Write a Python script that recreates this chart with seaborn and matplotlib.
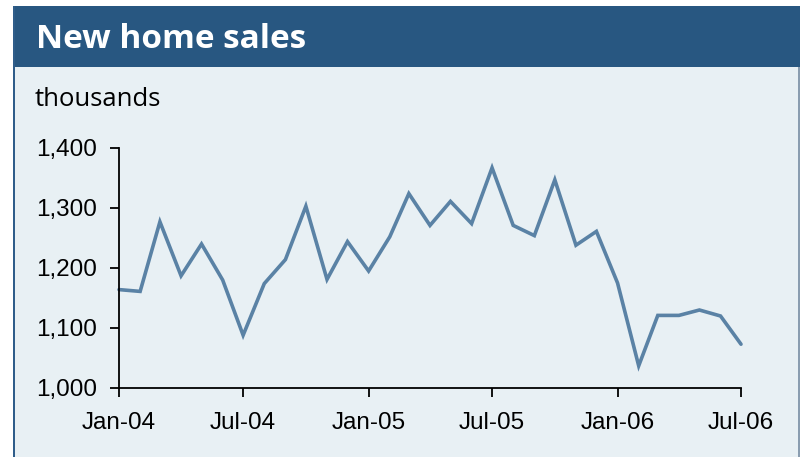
import matplotlib
matplotlib.use("Agg")
import matplotlib.pyplot as plt
import matplotlib.dates as mdates
from matplotlib.patches import Rectangle
from matplotlib.ticker import FuncFormatter
import seaborn as sns
import pandas as pd

# Monthly new home sales, thousands (seasonally adjusted annual rate)
months = pd.date_range("2004-01-01", "2006-07-01", freq="MS")
sales = [1164, 1161, 1277, 1187, 1240, 1180, 1088, 1174, 1214, 1303,
         1181, 1244, 1195, 1252, 1324, 1271, 1311, 1274, 1367, 1271,
         1254, 1347, 1238, 1261, 1175, 1037, 1121, 1121, 1130, 1120,
         1073]
tick_months = pd.date_range("2004-01-01", "2006-07-01", freq="6MS")
y_ticks = [1000, 1100, 1200, 1300, 1400]

title = "New home sales"
unit_label = "thousands"

df = pd.DataFrame({"month": months, "sales": sales})

sns.set_theme(style="white")
plt.rcParams["font.family"] = ["Liberation Sans", "DejaVu Sans"]

fig = plt.figure(figsize=(8.0, 4.57), dpi=100)
W, H = 800, 457

def px_rect(x0, y0, x1, y1, **kw):
    # rectangle given in pixel coordinates measured from the top-left
    return Rectangle((x0 / W, 1 - y1 / H), (x1 - x0) / W, (y1 - y0) / H,
                     transform=fig.transFigure, **kw)

panel_bg = "#E8F0F4"
band = "#285781"
fig.patches.append(px_rect(14, 6, 799, 457, facecolor=panel_bg,
                           edgecolor="none", zorder=0))
fig.patches.append(px_rect(14, 6, 800, 67, facecolor=band,
                           edgecolor="none", zorder=1))
fig.patches.append(px_rect(12.5, 6, 15, 457, facecolor="#2F5D8A",
                           edgecolor="none", zorder=2))
fig.patches.append(px_rect(798, 67, 799.5, 457, facecolor="#8A9DB0",
                           edgecolor="none", zorder=2))

fig.text(36 / W, 1 - 48 / H, title, color="white", fontsize=24,
         fontweight="bold", family=["Open Sans", "DejaVu Sans"],
         ha="left", va="baseline", zorder=3)
fig.text(35 / W, 1 - 106 / H, unit_label, color="black", fontsize=18.5,
         family=["Open Sans", "DejaVu Sans"], ha="left", va="baseline",
         zorder=3)

ax = fig.add_axes([119 / W, 1 - 388 / H, (741 - 119) / W, (388 - 148) / H])
ax.set_zorder(5)
ax.set_facecolor("none")

sns.lineplot(data=df, x="month", y="sales", ax=ax, color="#5A82A5",
             linewidth=2.6, solid_joinstyle="miter", clip_on=False)

ax.set_xlim(months[0], months[-1])
ax.set_ylim(y_ticks[0], y_ticks[-1])
ax.set_yticks(y_ticks)
ax.yaxis.set_major_formatter(FuncFormatter(lambda v, _: f"{int(v):,}"))
ax.set_xticks(tick_months)
ax.xaxis.set_major_formatter(mdates.DateFormatter("%b-%y"))
ax.set_xlabel("")
ax.set_ylabel("")

for side in ("top", "right"):
    ax.spines[side].set_visible(False)
for side in ("left", "bottom"):
    ax.spines[side].set_color("black")
    ax.spines[side].set_linewidth(1.3)

ax.tick_params(axis="y", which="major", direction="out", length=6.5,
               width=1.3, color="black", left=True, pad=9, labelsize=17.5,
               labelcolor="black")
ax.tick_params(axis="x", which="major", direction="out", length=6.5,
               width=1.3, color="black", bottom=True, pad=11, labelsize=17.5,
               labelcolor="black")
ax.grid(False)

fig.savefig("out.png", dpi=100, facecolor="white")
